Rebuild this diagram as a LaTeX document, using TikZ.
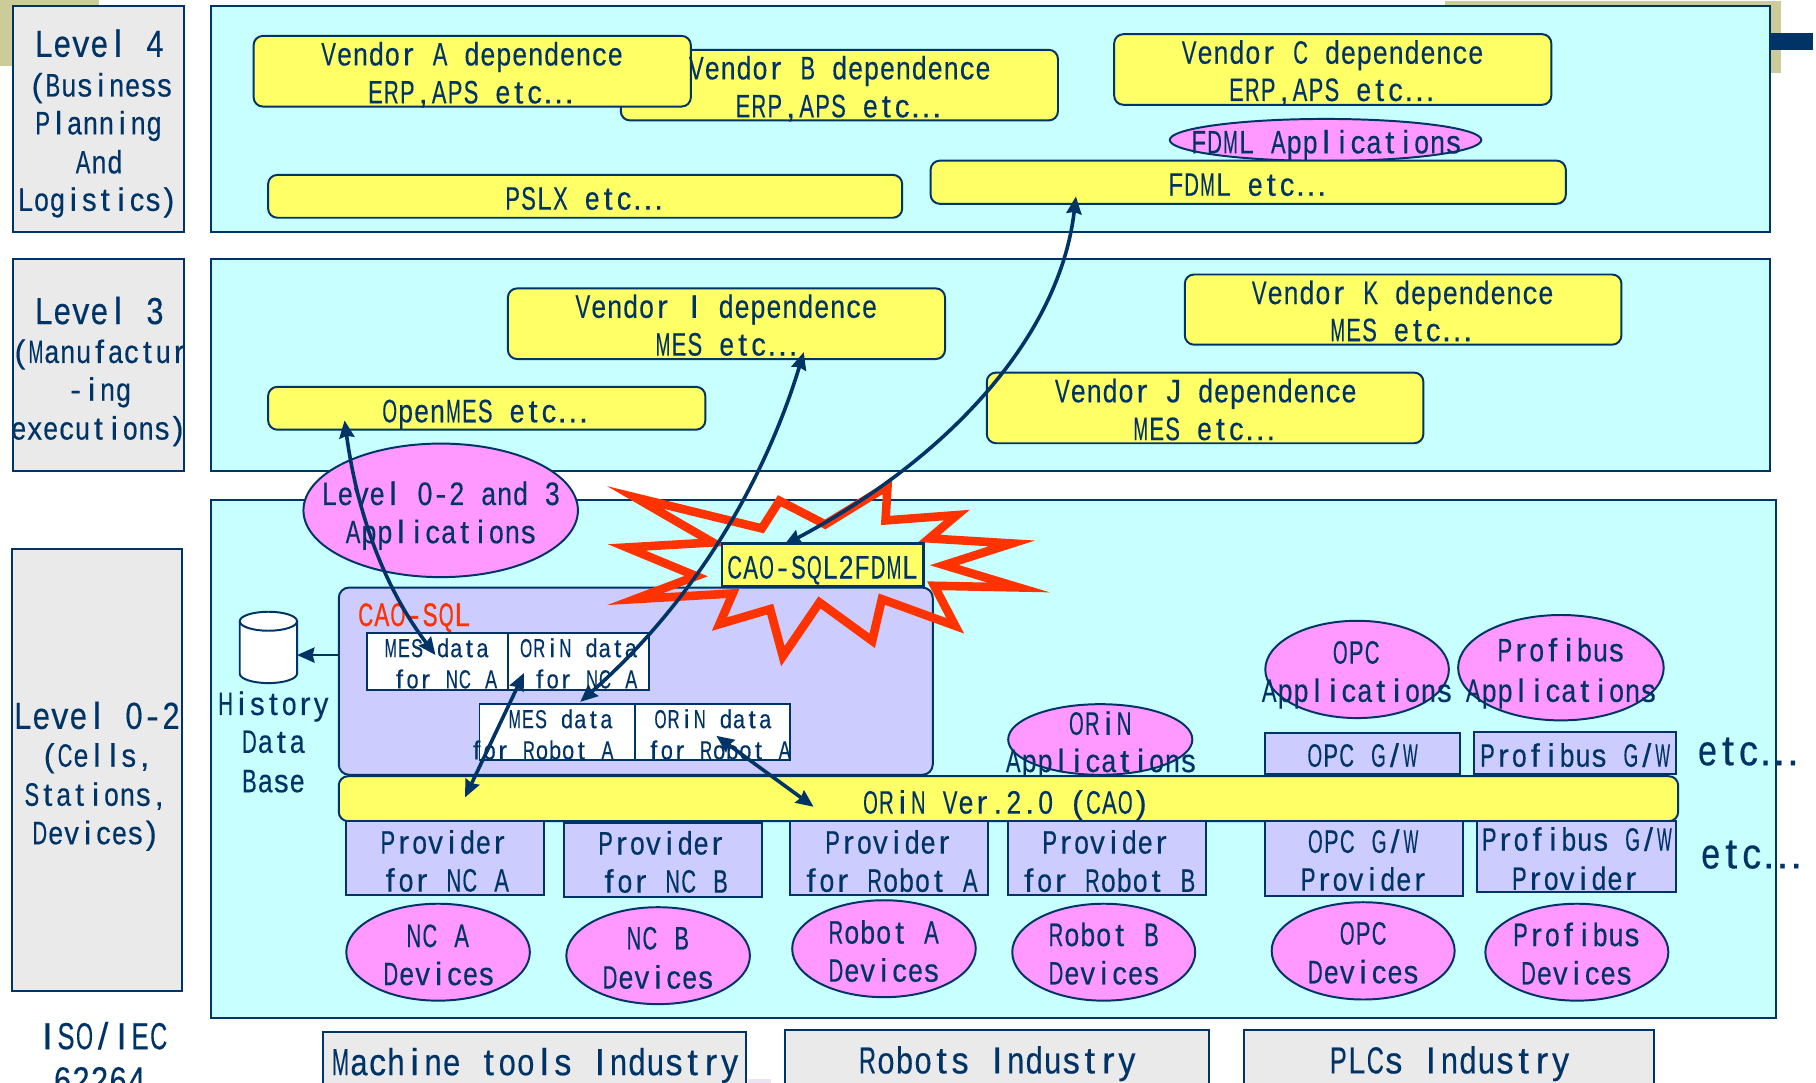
\documentclass[tikz,border=0pt]{standalone}
\usepackage{fontspec}
\usepackage{graphicx}
\setmainfont[FakeBold=0.35]{Liberation Sans}
\newfontfamily\redfont[FakeBold=1.2]{Liberation Sans}
\usetikzlibrary{shapes.geometric,arrows.meta}
\definecolor{navy}{HTML}{003366}
\definecolor{panelc}{HTML}{C8FFFF}
\definecolor{yelc}{HTML}{FFFF66}
\definecolor{pinkc}{HTML}{FF99FF}
\definecolor{lavc}{HTML}{CCCCFF}
\definecolor{grayc}{HTML}{EAEAEA}
\definecolor{burstc}{HTML}{FF3300}
\definecolor{tanc}{HTML}{CCCC99}
\definecolor{specc}{HTML}{ECE4F0}
\newcounter{tn}
\newcommand\fsN{\fontsize{28}{33}\selectfont\def\cw{13.75pt}}
\newcommand\fsR{\redfont\fontsize{28}{33}\selectfont\def\cw{13.9pt}}
\newcommand\fsL{\fontsize{32.5}{33}\selectfont\def\cw{16pt}}
\newcommand\fsS{\fontsize{22.5}{27}\selectfont\def\cw{11.3pt}}
\newcommand\fsE{\fontsize{37}{40}\selectfont\def\cw{17.7pt}}
\ExplSyntaxOn
\dim_new:N \l_cellw_dim
\dim_new:N \l_dotw_dim
\dim_new:N \l_putw_dim
\cs_new_protected:Npn \__put_cell:nn #1#2
 {
  \dim_set:Nn \l_putw_dim {#1}
  \sbox0{#2}
  \dim_compare:nNnTF {\wd0} > {0.92\l_putw_dim}
   { \makebox[\l_putw_dim][c]{\resizebox{0.92\l_putw_dim}{\height}{#2}} }
   { \makebox[\l_putw_dim][c]{#2} }
 }
\NewDocumentCommand\cellmono{mm}
 {
  \dim_set:Nn \l_cellw_dim {#1}
  \str_if_in:nnTF {#2} {...}
   { \dim_set:Nn \l_dotw_dim {\l_cellw_dim*2/3} }
   { \dim_set:Nn \l_dotw_dim {\l_cellw_dim} }
  \str_map_inline:nn {#2}
   {
    \str_if_eq:nnTF {##1} {.}
     { \__put_cell:nn {\l_dotw_dim} {##1} }
     { \__put_cell:nn {\l_cellw_dim} {##1} }
   }
 }
\ExplSyntaxOff
\newcommand\lbl[5][navy]{\stepcounter{tn}\node[txtline,text=#1] (t\thetn) at (#2,#3) {#4\cellmono{\cw}{#5}};}
\newcommand\bx[6]{\pgfmathsetmacro\bw{#5-#3}\pgfmathsetmacro\bh{#6-#4}\node[#1,minimum width=\bw pt,minimum height=\bh pt] (#2) at ({(#3+#5)/2},{(#4+#6)/2}) {};}
\tikzset{
 txtline/.style={anchor=base,inner sep=0pt,outer sep=0pt},
 base shape/.style={draw=navy,line width=1.7pt,inner sep=0pt,outer sep=0pt},
 panel/.style={base shape,fill=panelc},
 levelbox/.style={base shape,fill=grayc},
 yel/.style={base shape,fill=yelc,rounded corners=8pt},
 yelflat/.style={base shape,fill=yelc,line width=2.2pt},
 app/.style={base shape,ellipse,fill=pinkc},
 prov/.style={base shape,fill=lavc},
 caobox/.style={base shape,fill=lavc,rounded corners=9pt},
 databox/.style={base shape,fill=white},
 dbframe/.style={inner sep=0pt,outer sep=0pt},
 link/.style={draw=navy,line width=3.1pt,{Stealth[length=15pt,width=13pt,inset=1.5pt]}-{Stealth[length=15pt,width=13pt,inset=1.5pt]}},
 onelink/.style={draw=navy,line width=2.4pt,-{Stealth[length=15pt,width=13pt,inset=1.5pt]}},
 burst/.style={draw=burstc,line width=7.4pt,miter limit=30,line join=miter}
}
\begin{document}
\begin{tikzpicture}[x=1pt,y=-1pt]
\useasboundingbox (0,0) rectangle (1568,935);
\clip (0,0) rectangle (1568,935);
% decorative corners
\fill[tanc] (0,0) rectangle (85.5,57);
\fill[tanc] (1247.5,1) rectangle (1538,63);
\fill[navy] (1528,28.6) rectangle (1565.5,43);
% panels
\bx{panel}{p4}{182.5}{5}{1528.5}{200.5}
\bx{panel}{p3}{182.5}{224}{1528.5}{407}
\bx{panel}{p02}{182.5}{431.5}{1533.5}{878.7}
\bx{levelbox}{l4}{11.5}{5}{159}{200.5}
\bx{levelbox}{l3}{11.5}{224}{159}{407}
\bx{levelbox}{l02}{10}{473.8}{157.5}{856}
\lbl{85.8}{49}{\fsL}{Level 4}
\lbl{87}{83.3}{\fsN}{(Business}
\lbl{85}{116}{\fsN}{Planning}
\lbl{85.5}{149.7}{\fsN}{And}
\lbl{84}{182}{\fsN}{Logistics)}
\lbl{85.8}{279.8}{\fsL}{Level 3}
\lbl{86}{313.4}{\fsN}{(Manufactur}
\lbl{86}{346}{\fsN}{-ing}
\lbl{85}{379.5}{\fsN}{executions)}
\lbl{83.7}{629.3}{\fsL}{Level 0-2}
\lbl{83.7}{662}{\fsN}{(Cells,}
\lbl{82.5}{695.7}{\fsN}{Stations,}
\lbl{82.5}{728.9}{\fsN}{Devices)}
\lbl{89}{905.9}{\fsL}{ISO/IEC}
\lbl{86}{944}{\fsL}{62264}
% level 4
\bx{yel}{vb}{536}{43}{913.5}{104}
\bx{yel}{va}{219}{31}{596.5}{92}
\bx{yel}{vc}{962}{29.5}{1339.5}{90.5}
\bx{yel}{pslx}{231.5}{151}{779}{188}
\bx{app}{fdmlapp}{1010}{102.7}{1279}{139}
\bx{yel}{fdml}{803.5}{138.7}{1352}{176}
\lbl{725}{68.5}{\fsN}{Vendor B dependence}
\lbl{724}{101.3}{\fsN}{ERP,APS etc...}
\lbl{407.5}{56.5}{\fsN}{Vendor A dependence}
\lbl{406.7}{89.3}{\fsN}{ERP,APS etc...}
\lbl{1150.5}{55}{\fsN}{Vendor C dependence}
\lbl{1150}{87.2}{\fsN}{ERP,APS etc...}
\lbl{1145}{132.4}{\fsN}{FDML Applications}
\lbl{1077}{169}{\fsN}{FDML etc...}
\lbl{504.5}{181}{\fsN}{PSLX etc...}
% level 3
\bx{yel}{vi}{438.5}{249}{816}{310}
\bx{yel}{openmes}{231.5}{334}{609}{371}
\bx{yel}{vk}{1023}{237}{1400}{297.6}
\bx{yel}{vj}{852}{321.7}{1229}{382.7}
\lbl{627}{274.4}{\fsN}{Vendor I dependence}
\lbl{627.5}{307}{\fsN}{MES etc...}
\lbl{1211}{262.5}{\fsN}{Vendor K dependence}
\lbl{1210}{294.6}{\fsN}{MES etc...}
\lbl{1041}{347.3}{\fsN}{Vendor J dependence}
\lbl{1040}{380}{\fsN}{MES etc...}
\lbl{419}{364.6}{\fsN}{OpenMES etc...}
% level 0-2
\bx{app}{lvlapp}{262}{383}{499}{498.3}
\lbl{380.7}{436}{\fsN}{Level 0-2 and 3}
\lbl{380.5}{469}{\fsN}{Applications}
\bx{caobox}{cao}{292.5}{507.3}{805.4}{669}
\lbl[burstc]{357.5}{540.5}{\fsR}{CAO-SQL}
\bx{databox}{m1}{316.5}{546.7}{438.5}{595.5}
\bx{databox}{o1}{438.5}{546.7}{560}{595.5}
\bx{databox}{m2}{414}{607.7}{548.5}{656.5}
\bx{databox}{o2}{548.5}{607.7}{682.5}{656.5}
\lbl{377}{567.4}{\fsS}{MES data}
\lbl{384.5}{594.3}{\fsS}{for NC A}
\lbl{499.5}{567.4}{\fsS}{ORiN data}
\lbl{505.5}{594.3}{\fsS}{for NC A}
\lbl{484}{628.7}{\fsS}{MES data}
\lbl{468}{655.6}{\fsS}{for Robot A}
\lbl{615.5}{628.7}{\fsS}{ORiN data}
\lbl{621}{655.6}{\fsS}{for Robot A}
% database
\bx{dbframe}{db}{207}{528.2}{256.5}{589.8}
\draw[base shape,fill=white] (207,536.4) -- (207,581.6) arc[start angle=180,end angle=360,x radius=24.75pt,y radius=8.2pt] -- (256.5,536.4) arc[start angle=0,end angle=180,x radius=24.75pt,y radius=8.2pt] -- cycle;
\draw[base shape] (207,536.4) arc[start angle=180,end angle=360,x radius=24.75pt,y radius=8.2pt];
\lbl{236}{617.3}{\fsN}{History}
\lbl{236}{650}{\fsN}{Data}
\lbl{236}{684}{\fsN}{Base}
% burst
\begin{scope}[shift={(500.87,397.24)},x=0.2879pt,y=-0.2879pt]
\draw[burst] (165,112) -- (545,205) -- (598,122) -- (735,193) -- (922,78) -- (916,181) -- (1130,165) -- (1047,235) -- (1295,250) -- (1092,315) -- (1315,382) -- (1062,377) -- (1125,497) -- (905,417) -- (876,542) -- (718,427) -- (608,588) -- (570,447) -- (418,492) -- (458,400) -- (165,417) -- (348,348) -- (140,262) -- (398,247) -- cycle;
\end{scope}
\bx{yelflat}{sql2fdml}{623.5}{469.5}{797.3}{506.6}
\lbl{710}{499.5}{\fsN}{CAO-SQL2FDML}
% ORiN bar and above
\bx{app}{orinapp}{870.5}{608}{1029.5}{669}
\lbl{950}{634.4}{\fsN}{ORiN}
\lbl{950.5}{666.6}{\fsN}{Applications}
\bx{app}{opcapp}{1092.5}{536}{1251}{620}
\lbl{1171}{573}{\fsN}{OPC}
\lbl{1171.5}{606}{\fsN}{Applications}
\bx{app}{profapp}{1259}{531}{1436.5}{622}
\lbl{1347.5}{571}{\fsN}{Profibus}
\lbl{1347.7}{606}{\fsN}{Applications}
\bx{prov}{opcgw}{1092}{633}{1261}{668}
\lbl{1176.5}{662}{\fsN}{OPC G/W}
\bx{prov}{profgw}{1272.5}{632}{1447}{668.7}
\lbl{1360}{662}{\fsN}{Profibus G/W}
\bx{yel}{orinbar}{292.5}{670.2}{1449}{709}
\lbl{868.5}{702.5}{\fsN}{ORiN Ver.2.0 (CAO)}
% providers
\bx{prov}{pna}{299}{709}{470}{773}
\bx{prov}{pnb}{487}{710.3}{658}{774.3}
\bx{prov}{pra}{682.5}{709}{853}{773}
\bx{prov}{prb}{870}{709}{1041}{773}
\bx{prov}{popc}{1092}{709}{1263}{773.5}
\bx{prov}{pprof}{1275}{709}{1447.5}{770}
\lbl{383}{737}{\fsN}{Provider}
\lbl{385}{769.8}{\fsN}{for NC A}
\lbl{571}{737.8}{\fsN}{Provider}
\lbl{574}{770.7}{\fsN}{for NC B}
\lbl{767}{737}{\fsN}{Provider}
\lbl{769}{770}{\fsN}{for Robot A}
\lbl{954.5}{737}{\fsN}{Provider}
\lbl{957}{770}{\fsN}{for Robot B}
\lbl{1177}{736.3}{\fsN}{OPC G/W}
\lbl{1177.7}{769}{\fsN}{Provider}
\lbl{1361.5}{734.5}{\fsN}{Profibus G/W}
\lbl{1360}{768.3}{\fsN}{Provider}
% devices
\bx{app}{dna}{299}{780.3}{457.5}{864}
\bx{app}{dnb}{489}{783.3}{647.5}{867}
\bx{app}{dra}{684}{777.3}{842.5}{861}
\bx{app}{drb}{874}{780.3}{1032}{864}
\bx{app}{dopc}{1098}{779}{1256}{863}
\bx{app}{dprof}{1282.5}{780.3}{1440.5}{864}
\lbl{378}{817.7}{\fsN}{NC A}
\lbl{378.7}{850.6}{\fsN}{Devices}
\lbl{568}{819.8}{\fsN}{NC B}
\lbl{568}{853.6}{\fsN}{Devices}
\lbl{763}{814.7}{\fsN}{Robot A}
\lbl{763}{847.6}{\fsN}{Devices}
\lbl{953}{816.8}{\fsN}{Robot B}
\lbl{953}{850}{\fsN}{Devices}
\lbl{1177}{815.6}{\fsN}{OPC}
\lbl{1177}{849}{\fsN}{Devices}
\lbl{1361}{816.8}{\fsN}{Profibus}
\lbl{1361}{850}{\fsN}{Devices}
\lbl{1509.7}{660.7}{\fsE}{etc...}
\lbl{1512.5}{749.8}{\fsE}{etc...}
% industries
\bx{levelbox}{imt}{279}{891}{644}{960}
\bx{levelbox}{iro}{678}{889.5}{1043.5}{960}
\bx{levelbox}{ipl}{1074.5}{889.5}{1428}{960}
\lbl{462}{928.3}{\fsL}{Machine tools Industry}
\lbl{861}{926.8}{\fsL}{Robots Industry}
\lbl{1251.5}{926.8}{\fsL}{PLCs Industry}
\fill[specc] (645.5,931.5) rectangle (666,935);
% connectors
\coordinate (a1s) at (297.5,363);
\coordinate (a1e) at (376,565.6);
\coordinate (a2s) at (694,304);
\coordinate (a2e) at (501,606);
\coordinate (a3s) at (929,169.6);
\coordinate (a3e) at (677,470.6);
\coordinate (a4s) at (452.5,581);
\coordinate (a4e) at (401.5,688.5);
\coordinate (a5s) at (618.5,635.3);
\coordinate (a5e) at (702.5,696.6);
\coordinate (a6y) at (292.5,565.6);
\draw[link] (a1s) .. controls (308,440) and (330,505) .. (a1e);
\draw[link] (a2s) .. controls (665,400) and (610,510) .. (a2e);
\draw[link] (a3s) .. controls (915,290) and (820,395) .. (a3e);
\draw[link] (a4s) -- (a4e);
\draw[link] (a5s) -- (a5e);
\draw[onelink] (cao.west |- a6y) -- (db.east |- a6y);
\end{tikzpicture}
\end{document}
